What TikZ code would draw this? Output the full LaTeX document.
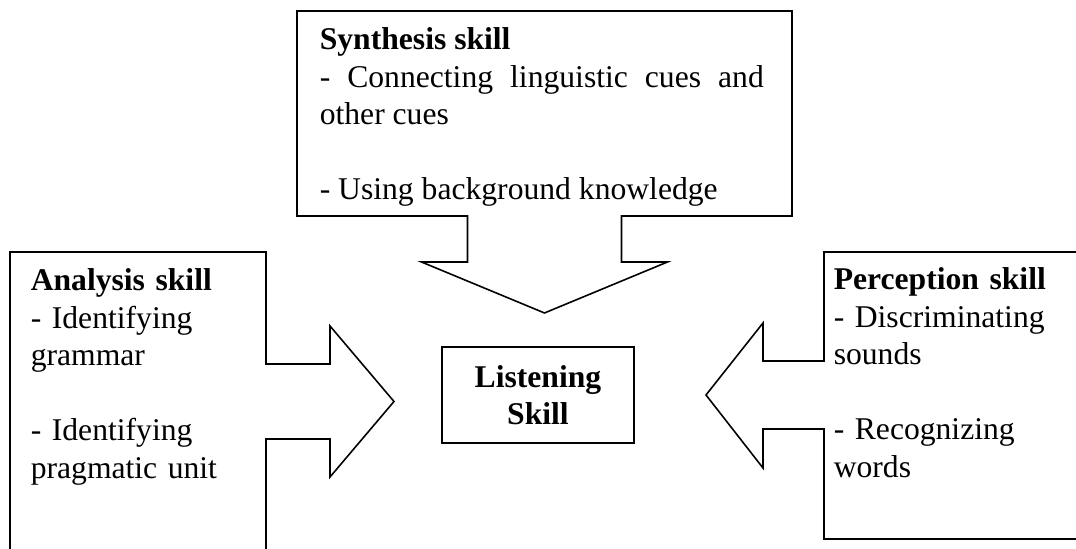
\documentclass[tikz,border=0pt]{standalone}
\usepackage{fontspec}
\setmainfont{Liberation Serif}

\begin{document}
\begin{tikzpicture}[line width=0.9pt,
  skill/.style={font=\fontsize{18}{21.3}\selectfont, inner sep=0pt, anchor=base west, align=left, text width=6cm},
]

% Page size, and clip the boxes that run off the page.
\path[use as bounding box, clip] (0, 0) rectangle (21.52, 10.98);

% Synthesis box with its arrow pointing down.
\draw (5.94, 10.76) -- (15.84, 10.76) -- (15.84, 6.66) -- (12.43, 6.66) -- (12.43, 5.74) -- (13.35, 5.74)
  -- (10.89, 4.72) -- (8.43, 5.74) -- (9.35, 5.74) -- (9.35, 6.66) -- (5.94, 6.66) -- cycle;

% Analysis box with its arrow pointing right.
\draw (0.2, -0.3) -- (0.2, 5.94) -- (5.32, 5.94) -- (5.32, 3.70) -- (6.6, 3.70) -- (6.6, 4.46)
  -- (7.88, 2.95) -- (6.6, 1.44) -- (6.6, 2.20) -- (5.32, 2.20) -- (5.32, -0.3);

% Perception box with its arrow pointing left.
\draw (21.8, 5.94) -- (16.48, 5.94) -- (16.48, 3.76) -- (15.26, 3.76) -- (15.26, 4.52)
  -- (14.12, 3.08) -- (15.26, 1.62) -- (15.26, 2.40) -- (16.48, 2.40) -- (16.48, 0.2) -- (21.8, 0.2);

% Texts of the three skills.
\node[skill, text width=8.88cm, align=justify] (synthesis) at (6.38, 9.98)
  {\textbf{Synthesis skill}\\ - Connecting linguistic cues and\linebreak other cues\\ \mbox{}\\ - Using background knowledge};
\node[skill] (analysis) at (0.6, 5.16)
  {\textbf{Analysis skill}\\ - Identifying\\ grammar\\ \mbox{}\\ - Identifying\\ pragmatic unit};
\node[skill] (perception) at (16.66, 5.18)
  {\textbf{Perception skill}\\ - Discriminating\\ sounds\\ \mbox{}\\ - Recognizing\\ words};

% Listening box in the middle.
\node[draw, minimum width=3.84cm, minimum height=1.92cm, align=center,
  font=\fontsize{18}{21.3}\selectfont\bfseries] (listening) at (10.76, 3.08) {Listening\\ Skill};

\end{tikzpicture}
\end{document}
